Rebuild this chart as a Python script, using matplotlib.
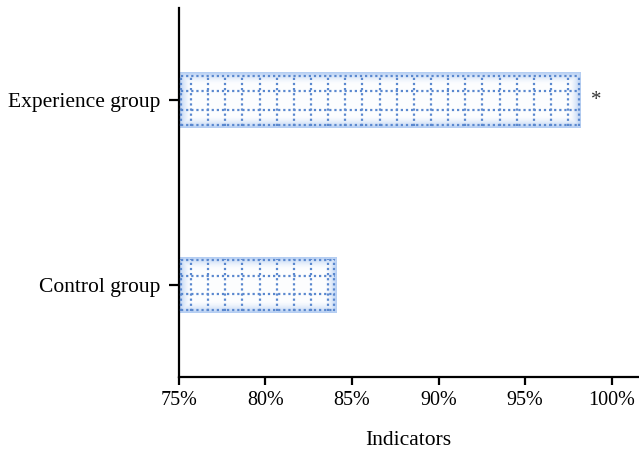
import numpy as np
import matplotlib
matplotlib.use('Agg')
import matplotlib.pyplot as plt

groups = ['Control group', 'Experience group']
values = [84.1, 98.2]
marks = ['', '*']
xticks = [75, 80, 85, 90, 95, 100]
xticklabels = ['75%', '80%', '85%', '90%', '95%', '100%']

plt.rcParams['font.family'] = ['Liberation Serif', 'DejaVu Serif']

fig = plt.figure(figsize=(6.39, 4.55), dpi=100)
ax = fig.add_axes([0.280, 0.171, 0.718, 0.811])

base = 75
h = 0.3
bars = ax.barh(range(len(groups)), [v - base for v in values], left=base, height=h,
               color='none', edgecolor='none', zorder=2)

# soft blue glow towards the bar edges
ny, nx = 80, 500
yy = np.linspace(0, 1, ny)[:, None]
for b, v in zip(bars, values):
    x0, y0, w, hh = b.get_x(), b.get_y(), b.get_width(), b.get_height()
    px = w / 26.5 * 459
    xx = np.linspace(0, 1, nx)[None, :]
    dx = np.minimum(xx, 1 - xx) * px
    dy = np.minimum(yy, 1 - yy) * 57
    d = np.minimum(dx, dy)
    a = np.clip(1 - d / 12.0, 0, 1) ** 1.6
    img = np.zeros((ny, nx, 4))
    img[..., 0] = 0.62
    img[..., 1] = 0.75
    img[..., 2] = 0.94
    img[..., 3] = 0.03 + 0.75 * a
    ax.imshow(img, extent=(x0, x0 + w, y0, y0 + hh), aspect='auto',
              origin='lower', zorder=1, interpolation='bilinear')
    # dotted grid inside bar
    dot = dict(color='#5a88cf', linestyle=(0, (1, 1.3)), linewidth=1.6, zorder=3)
    for f in [0.05, 1/3, 2/3, 0.95]:
        ax.plot([x0 + 0.1, x0 + w - 0.1], [y0 + f * hh] * 2, **dot)
    xs = np.arange(base + 0.7, v - 0.3, 0.99)
    for xv in list(xs) + [x0 + 0.12, x0 + w - 0.12]:
        ax.plot([xv, xv], [y0 + 0.01, y0 + hh - 0.01], **dot)

for i, (v, m) in enumerate(zip(values, marks)):
    if m:
        ax.text(v + 0.6, i, m, fontsize=15, va='center', ha='left', color='#333333')

ax.set_xlim(75, 101.5)
ax.set_ylim(-0.5, 1.5)
ax.set_yticks(range(len(groups)))
ax.set_yticklabels(groups, fontsize=15.5)
ax.set_xticks(xticks)
ax.set_xticklabels(xticklabels, fontsize=14.5)
ax.set_xlabel('Indicators', fontsize=15.5, labelpad=15)

for s in ['top', 'right']:
    ax.spines[s].set_visible(False)
for s in ['left', 'bottom']:
    ax.spines[s].set_linewidth(1.6)
ax.tick_params(axis='y', width=1.6, length=7, pad=6)
ax.tick_params(axis='x', width=1.6, length=6, pad=4)

fig.savefig('out.png', dpi=100)
